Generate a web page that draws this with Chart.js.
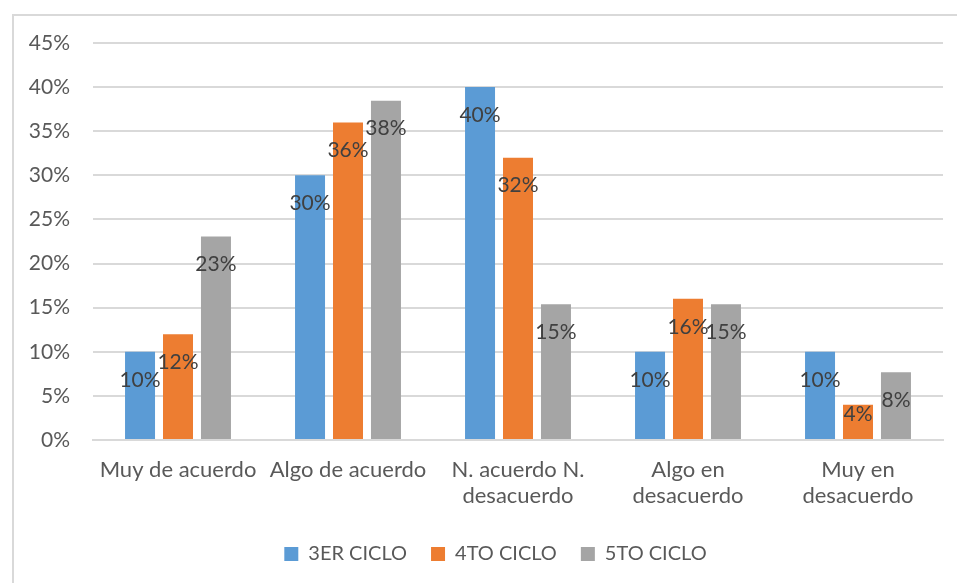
<!DOCTYPE html>
<html>
<head>
<meta charset="utf-8">
<script src="https://cdn.jsdelivr.net/npm/chart.js@4/dist/chart.umd.min.js"></script>
<style>
  html, body { margin:0; padding:0; background:#fff; }
  #wrap { width:957px; height:583px; position:relative; }
</style>
</head>
<body>
<div id="wrap"><canvas id="chart" width="957" height="583"></canvas></div>
<script>
const categories = [
  'Muy de acuerdo',
  'Algo de acuerdo',
  ['N. acuerdo N.', 'desacuerdo'],
  ['Algo en', 'desacuerdo'],
  ['Muy en', 'desacuerdo']
];
const seriesNames = ['3ER CICLO', '4TO CICLO', '5TO CICLO'];
const ciclo3 = [10, 30, 40, 10, 10];
const ciclo4 = [12, 36, 32, 16, 4];
const ciclo5 = [23.08, 38.46, 15.38, 15.38, 7.69];
const yTicks = [0, 5, 10, 15, 20, 25, 30, 35, 40, 45];

const colors = ['#5b9bd5', '#ed7d31', '#a5a5a5'];
const fontFamily = 'Lato, "Open Sans", sans-serif';

// excel-like "inside end" labels
const barLabels = {
  id: 'barLabels',
  afterDatasetsDraw(chart) {
    const ctx = chart.ctx;
    ctx.save();
    ctx.font = '21px ' + fontFamily;
    ctx.fillStyle = '#404040';
    ctx.textAlign = 'center';
    ctx.textBaseline = 'middle';
    chart.data.datasets.forEach((ds, i) => {
      chart.getDatasetMeta(i).data.forEach((bar, j) => {
        const y = Math.min(bar.y + 28, bar.base - 25);
        ctx.fillText(Math.round(ds.data[j]) + '%', bar.x, y);
      });
    });
    ctx.restore();
  }
};

const frame = {
  id: 'frame',
  beforeDraw(chart) {
    const ctx = chart.ctx;
    ctx.save();
    ctx.fillStyle = '#fff';
    ctx.fillRect(0, 0, chart.width, chart.height);
    ctx.strokeStyle = '#d9d9d9';
    ctx.lineWidth = 2;
    ctx.strokeRect(13, 15, 1000, 700);
    ctx.restore();
  },
  // legend in the original sits a bit right of the page centre
  afterLayout(chart) {
    chart.legend.left += 48;
  }
};

new Chart(document.getElementById('chart'), {
  type: 'bar',
  data: {
    labels: categories,
    datasets: [ciclo3, ciclo4, ciclo5].map((d, i) => ({
      label: seriesNames[i],
      data: d,
      backgroundColor: colors[i],
      categoryPercentage: 0.67,
      barPercentage: 0.79
    }))
  },
  options: {
    responsive: false,
    animation: false,
    layout: { padding: { top: 43, right: 14, bottom: 9, left: 0 } },
    plugins: {
      tooltip: { enabled: false },
      legend: {
        position: 'bottom',
        labels: {
          boxWidth: 14, boxHeight: 14, padding: 24,
          color: '#595959',
          font: { family: fontFamily, size: 20 }
        }
      }
    },
    scales: {
      x: {
        grid: { display: false, drawTicks: false },
        border: { color: '#d9d9d9', width: 2 },
        ticks: { color: '#595959', padding: 17, maxRotation: 0, autoSkip: false,
                 font: { family: fontFamily, size: 22, lineHeight: 1.18 } },
        afterFit(s) { s.height = 80; }
      },
      y: {
        min: 0, max: 45,
        afterBuildTicks(s) { s.ticks = yTicks.map(v => ({ value: v })); },
        grid: { color: '#d9d9d9', lineWidth: 2, drawTicks: false },
        border: { display: false },
        ticks: { color: '#595959', padding: 23,
                 font: { family: fontFamily, size: 21 },
                 callback: v => v + '%' },
        afterFit(s) { s.width = 93; }
      }
    }
  },
  plugins: [frame, barLabels]
});
</script>
</body>
</html>
